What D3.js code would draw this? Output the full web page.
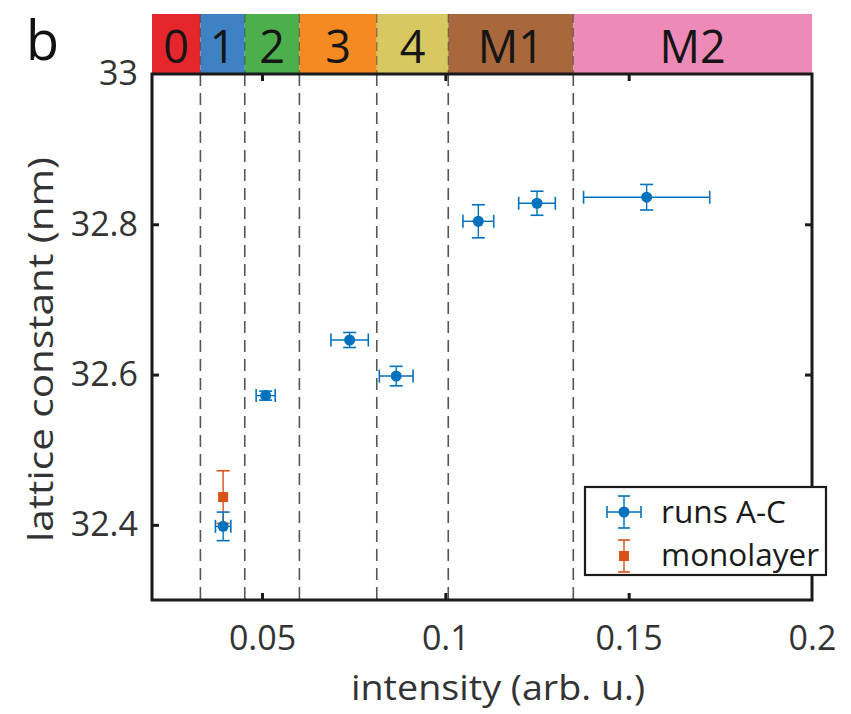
<!DOCTYPE html>
<html><head><meta charset="utf-8">
<script src="https://cdn.jsdelivr.net/npm/d3@7"></script>
<style>body{margin:0;background:#fff}svg{font-family:"Open Sans",sans-serif}</style>
</head><body><svg id="c" width="851" height="714"></svg>
<script>
// data
const runX = [0.0394, 0.0510, 0.0739, 0.0866, 0.1090, 0.1250, 0.1549];
const runY = [32.398, 32.572, 32.646, 32.598, 32.804, 32.828, 32.836];
const runXErr = [0.0021, 0.0026, 0.0051, 0.0046, 0.0042, 0.0050, 0.0172];
const runYErr = [0.019, 0.006, 0.010, 0.013, 0.022, 0.016, 0.017];
const monoX = [0.0394];
const monoY = [32.437];
const monoYErr = [0.035];
const bandEdges = [0.02, 0.0332, 0.0453, 0.0602, 0.0813, 0.1008, 0.1349, 0.2];
const bandLabels = ["0","1","2","3","4","M1","M2"];
const bandColors = ["#e5272d","#3f82c4","#4dae4c","#f58a23","#d8c862","#a8683c","#ee8ab8"];
const xTicks = [0.05, 0.1, 0.15, 0.2];
const yTicks = [32.4, 32.6, 32.8, 33];

const svg = d3.select("#c");
const L = 152, R = 812, T = 74, B = 600;
const x = d3.scaleLinear().domain([0.02, 0.2]).range([L, R]);
const y = d3.scaleLinear().domain([32.3, 33]).range([B, T]);
const blue = "#0072BD", orange = "#D95319";

// bands
const BT = 14;
const bands = svg.append("g");
bandLabels.forEach((lab, i) => {
  const x0 = x(bandEdges[i]), x1 = x(bandEdges[i+1]);
  bands.append("rect").attr("x", x0).attr("y", BT).attr("width", x1 - x0).attr("height", T - BT).attr("fill", bandColors[i]);
  bands.append("text").attr("x", (x0 + x1) / 2).attr("y", 63).attr("text-anchor", "middle")
    .attr("font-size", 45).attr("fill", "#151515").text(lab);
});
// dashed lines
bandEdges.slice(1, -1).forEach(e => {
  svg.append("line").attr("x1", x(e)).attr("x2", x(e)).attr("y1", BT).attr("y2", T)
    .attr("stroke", "#333").attr("stroke-width", 1.2).attr("stroke-dasharray", "9,5").attr("opacity", 0.6);
  svg.append("line").attr("x1", x(e)).attr("x2", x(e)).attr("y1", T).attr("y2", B)
    .attr("stroke", "#555").attr("stroke-width", 1.6).attr("stroke-dasharray", "12,7");
});

// axes
const xAxis = d3.axisBottom(x).tickValues(xTicks).tickSize(-7).tickPadding(26).tickFormat(d => String(+d.toFixed(2)));
const gx = svg.append("g").attr("transform", `translate(0,${B})`).call(xAxis);
const gxt = svg.append("g").attr("transform", `translate(0,${T})`).call(d3.axisTop(x).tickValues(xTicks).tickSize(-7).tickFormat(""));
const yAxis = d3.axisLeft(y).tickValues(yTicks).tickSize(-7).tickPadding(14).tickFormat(d => String(+d.toFixed(1)));
const gy = svg.append("g").attr("transform", `translate(${L},0)`).call(yAxis);
const gyr = svg.append("g").attr("transform", `translate(${R},0)`).call(d3.axisRight(y).tickValues(yTicks).tickSize(-7).tickFormat(""));
[gx, gxt, gy, gyr].forEach(g => {
  g.select(".domain").remove();
  g.selectAll(".tick line").attr("stroke", "#1a1a1a").attr("stroke-width", 3);
  g.selectAll(".tick text").attr("font-size", 34).attr("fill", "#333").attr("font-family", "Open Sans");
});
gy.selectAll(".tick").filter(d => d === 33).select("line").remove();
gyr.selectAll(".tick").filter(d => d === 33).select("line").remove();
gx.selectAll(".tick").filter(d => d === 0.2).select("line").remove();
gxt.selectAll(".tick").filter(d => d === 0.2).select("line").remove();

// frame
svg.append("rect").attr("x", L).attr("y", T).attr("width", R - L).attr("height", B - T)
  .attr("fill", "none").attr("stroke", "#1a1a1a").attr("stroke-width", 3);

// error bars helper
function errbar(g, cx, cy, xe, ye, color, cap) {
  if (xe) {
    g.append("line").attr("x1", x(cx - xe)).attr("x2", x(cx + xe)).attr("y1", y(cy)).attr("y2", y(cy)).attr("stroke", color).attr("stroke-width", 1.4);
    [cx - xe, cx + xe].forEach(v => g.append("line").attr("x1", x(v)).attr("x2", x(v)).attr("y1", y(cy) - cap).attr("y2", y(cy) + cap).attr("stroke", color).attr("stroke-width", 1.6));
  }
  if (ye) {
    g.append("line").attr("x1", x(cx)).attr("x2", x(cx)).attr("y1", y(cy - ye)).attr("y2", y(cy + ye)).attr("stroke", color).attr("stroke-width", 1.4);
    [cy - ye, cy + ye].forEach(v => g.append("line").attr("x1", x(cx) - cap).attr("x2", x(cx) + cap).attr("y1", y(v)).attr("y2", y(v)).attr("stroke", color).attr("stroke-width", 1.6));
  }
}
const gm = svg.append("g");
monoX.forEach((v, i) => {
  errbar(gm, v, monoY[i], 0, monoYErr[i], orange, 6.5);
  gm.append("rect").attr("x", x(v) - 5).attr("y", y(monoY[i]) - 5).attr("width", 10).attr("height", 10).attr("fill", orange);
});
const gr = svg.append("g");
runX.forEach((v, i) => {
  errbar(gr, v, runY[i], runXErr[i], runYErr[i], blue, 6.5);
  gr.append("circle").attr("cx", x(v)).attr("cy", y(runY[i])).attr("r", 5.5).attr("fill", blue);
});

// legend
const lg = svg.append("g");
lg.append("rect").attr("x", 585).attr("y", 487).attr("width", 241).attr("height", 88).attr("fill", "#fff").attr("stroke", "#1a1a1a").attr("stroke-width", 2.2);
const l1y = 512, l2y = 556, lx = 624;
lg.append("line").attr("x1", lx - 17).attr("x2", lx + 17).attr("y1", l1y).attr("y2", l1y).attr("stroke", blue).attr("stroke-width", 1.4);
[lx - 17, lx + 17].forEach(v => lg.append("line").attr("x1", v).attr("x2", v).attr("y1", l1y - 6).attr("y2", l1y + 6).attr("stroke", blue).attr("stroke-width", 1.6));
lg.append("line").attr("x1", lx).attr("x2", lx).attr("y1", l1y - 16).attr("y2", l1y + 16).attr("stroke", blue).attr("stroke-width", 1.4);
[l1y - 16, l1y + 16].forEach(v => lg.append("line").attr("x1", lx - 6).attr("x2", lx + 6).attr("y1", v).attr("y2", v).attr("stroke", blue).attr("stroke-width", 1.6));
lg.append("circle").attr("cx", lx).attr("cy", l1y).attr("r", 5.5).attr("fill", blue);
lg.append("line").attr("x1", lx).attr("x2", lx).attr("y1", l2y - 16).attr("y2", l2y + 16).attr("stroke", orange).attr("stroke-width", 1.4);
[l2y - 16, l2y + 16].forEach(v => lg.append("line").attr("x1", lx - 6).attr("x2", lx + 6).attr("y1", v).attr("y2", v).attr("stroke", orange).attr("stroke-width", 1.6));
lg.append("rect").attr("x", lx - 5).attr("y", l2y - 5).attr("width", 10).attr("height", 10).attr("fill", orange);
lg.append("text").attr("x", 661).attr("y", 523).attr("font-size", 31).attr("fill", "#1a1a1a")
  .attr("textLength", 125).attr("lengthAdjust", "spacingAndGlyphs").text("runs A-C");
lg.append("text").attr("x", 661).attr("y", 566).attr("font-size", 31).attr("fill", "#1a1a1a")
  .attr("textLength", 158).attr("lengthAdjust", "spacingAndGlyphs").text("monolayer");

// titles
svg.append("text").attr("x", 351).attr("y", 700).attr("font-size", 34).attr("fill", "#333")
  .attr("textLength", 294).attr("lengthAdjust", "spacingAndGlyphs").text("intensity (arb. u.)");
svg.append("text").attr("transform", `translate(53,542) rotate(-90)`).attr("font-size", 34).attr("fill", "#333")
  .attr("textLength", 385).attr("lengthAdjust", "spacingAndGlyphs").text("lattice constant (nm)");
svg.append("text").attr("x", 26).attr("y", 60).attr("font-size", 54).attr("fill", "#111").text("b");
</script></body></html>
